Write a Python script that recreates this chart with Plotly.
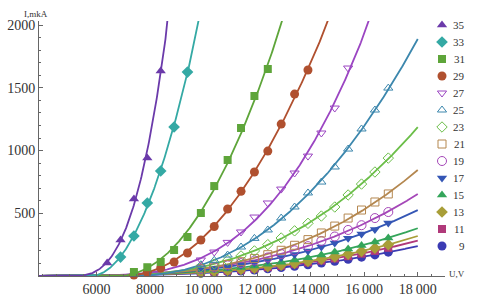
import numpy as np
import plotly.graph_objects as go

# ---------------- data ----------------
names = ["35", "33", "31", "29", "27", "25", "23", "21", "19", "17", "15", "13", "11", "9"]

u_35 = [6400, 6900, 7400, 7900, 8400]
i_35 = [104, 287, 614, 940, 1634]

u_33 = [6900, 7400, 7900, 8400, 8900, 9400]
i_33 = [151, 319, 582, 837, 1188, 1626]

u_31 = [7400, 7900, 8400, 8900, 9400, 9900, 10400, 10900, 11400, 11900, 12400]
i_31 = [32, 70, 112, 207, 311, 502, 717, 925, 1180, 1435, 1650]

u_29 = [7400, 7900, 8400, 8900, 9400, 9900, 10400, 10900, 11400, 11900, 12400, 12900, 13400, 13900]
i_29 = [8, 30, 64, 112, 183, 287, 395, 534, 675, 829, 996, 1211, 1450, 1642]

u_27 = [9900, 10400, 10900, 11400, 11900, 12400, 12900, 13400, 13900, 14400, 14900, 15400]
i_27 = [128, 191, 268, 351, 470, 582, 693, 821, 956, 1140, 1339, 1658]

u_25 = [9900, 10400, 10900, 11400, 11900, 12400, 12900, 13400, 13900, 14400, 14900, 15400, 15900, 16400, 16900]
i_25 = [90, 125, 167, 231, 300, 367, 462, 550, 662, 749, 869, 1012, 1172, 1323, 1498]

u_low = [9900, 10400, 10900, 11400, 11900, 12400, 12900, 13400, 13900, 14400, 14900, 15400, 15900, 16400, 16900]
i_23 = [72, 95, 125, 160, 200, 250, 303, 360, 420, 478, 550, 646, 733, 829, 940]
i_21 = [58, 74, 92, 114, 140, 170, 205, 245, 290, 343, 398, 462, 526, 590, 654]
i_19 = [56, 69, 85, 103, 124, 148, 175, 205, 238, 279, 315, 367, 405, 462, 510]
i_17 = [48, 60, 73, 88, 106, 126, 148, 172, 200, 231, 263, 300, 335, 370, 422]
i_15 = [37, 46, 56, 67, 80, 94, 110, 127, 146, 167, 191, 215, 243, 271, 303]
i_13 = [29, 36, 44, 53, 63, 75, 87, 101, 117, 134, 153, 174, 197, 222, 250]
i_11 = [28, 35, 42, 50, 59, 70, 81, 94, 108, 123, 140, 158, 178, 200, 225]
i_9 = [22, 27, 33, 40, 48, 57, 67, 78, 90, 104, 118, 133, 150, 168, 190]

fit_start, fit_end = 3855, 18000

x_tickvals = [6000, 8000, 10000, 12000, 14000, 16000, 18000]
x_ticktext = ["6000", "8000", "10\u2009000", "12\u2009000", "14\u2009000", "16\u2009000", "18\u2009000"]
y_tickvals = [500, 1000, 1500, 2000]
y_ticktext = ["500", "1000", "1500", "2000"]

# ---------------- styles ----------------
series_u = [u_35, u_33, u_31, u_29, u_27, u_25, u_low, u_low, u_low, u_low, u_low, u_low, u_low, u_low]
series_i = [i_35, i_33, i_31, i_29, i_27, i_25, i_23, i_21, i_19, i_17, i_15, i_13, i_11, i_9]
colors = ["#6B3AAA", "#34A9A4", "#5EA53A", "#B0502F", "#9B45C2", "#3C87AD", "#6BBE48",
          "#B4874F", "#A547B8", "#3456B5", "#34A55A", "#A89E38", "#B0397A", "#3B3BB3"]
symbols = ["triangle-up", "diamond", "square", "circle", "triangle-down-open", "triangle-up-open",
           "diamond-open", "square-open", "circle-open", "triangle-down", "triangle-up", "diamond",
           "square", "circle"]
sizes = [9, 9, 8, 9, 8, 8, 8, 8, 9, 9, 9, 9, 8, 9]

# plot area in pixels
L, R, T, B = 38.5, 445.0, 21.0, 276.0
W, H = 482, 306
pw, ph = R - L, B - T


def fit_curve(u, i, grid):
    """Least-squares fit of I = max(0, a + b*U)^n, n chosen from a few exponents."""
    u = np.asarray(u, float) / 1000.0
    i = np.asarray(i, float)
    g = grid / 1000.0
    best = None
    for n in np.arange(1.5, 5.01, 0.25):
        c = np.polyfit(u, i ** (1.0 / n), 1)
        pred = np.clip(np.polyval(c, u), 0, None) ** n
        err = np.sum((pred - i) ** 2)
        if best is None or err < best[0]:
            best = (err, c, n)
    _, c, n = best
    return np.clip(np.polyval(c, g), 0, None) ** n


fig = go.Figure()

grid = np.linspace(fit_start, fit_end, 600)
for k in reversed(range(len(names))):
    fit = fit_curve(series_u[k], series_i[k], grid)
    fig.add_trace(go.Scatter(x=grid, y=fit, mode="lines",
                             line=dict(color=colors[k], width=1.8),
                             showlegend=False, hoverinfo="skip"))

for k in reversed(range(len(names))):
    sym = symbols[k]
    is_open = sym.endswith("open")
    fig.add_trace(go.Scatter(
        x=series_u[k], y=series_i[k], mode="markers", cliponaxis=False,
        marker=dict(symbol=sym, size=sizes[k], color=colors[k],
                    line=dict(color=colors[k], width=1 if is_open else 0)),
        showlegend=False, name=names[k]))

# manual legend: markers on a pixel-based overlay axis
leg_x = 442 - L
leg_y = [B - (25 + 17 * k) for k in range(len(names))]
for k in range(len(names)):
    sym = symbols[k]
    is_open = sym.endswith("open")
    fig.add_trace(go.Scatter(
        x=[leg_x], y=[leg_y[k]], xaxis="x2", yaxis="y2", mode="markers", cliponaxis=False,
        marker=dict(symbol=sym, size=sizes[k], color=colors[k],
                    line=dict(color=colors[k], width=1 if is_open else 0)),
        showlegend=False, hoverinfo="skip"))

annotations = []
for k, n in enumerate(names):
    annotations.append(dict(xref="paper", yref="paper", x=(467 - L) / pw, y=leg_y[k] / ph,
                            text=n, showarrow=False, xanchor="right", yanchor="middle",
                            font=dict(family="Liberation Serif", size=11, color="#333333")))
annotations.append(dict(xref="paper", yref="paper", x=(35 - L) / pw, y=(B - 14) / ph,
                        text="I,mkA", showarrow=False, xanchor="center", yanchor="middle",
                        font=dict(family="Liberation Serif", size=9, color="#333333")))
annotations.append(dict(xref="paper", yref="paper", x=(457.5 - L) / pw, y=(B - 274) / ph,
                        text="U,V", showarrow=False, xanchor="center", yanchor="middle",
                        font=dict(family="Liberation Serif", size=9, color="#333333")))

axis_col = "#666666"
tick_font = dict(family="Liberation Serif", size=14, color="#333333")
x_span = (fit_start, fit_start + (R - L) * 37.3)
fig.update_layout(
    width=W, height=H,
    margin=dict(l=L, r=W - R, t=T, b=H - B, pad=0, autoexpand=False),
    paper_bgcolor="white", plot_bgcolor="white",
    showlegend=False,
    xaxis=dict(range=list(x_span), tickmode="array", tickvals=x_tickvals, ticktext=x_ticktext,
               ticks="inside", ticklen=4, tickcolor=axis_col, tickwidth=1, automargin=False,
               showline=True, linecolor=axis_col, linewidth=1, showgrid=False, zeroline=False,
               tickfont=tick_font,
               minor=dict(ticks="inside", ticklen=2, tickcolor=axis_col, tick0=0, dtick=500, showgrid=False)),
    yaxis=dict(range=[0, ph / 0.12544], tickmode="array", tickvals=y_tickvals, ticktext=y_ticktext,
               ticks="inside", ticklen=4, tickcolor=axis_col, tickwidth=1, automargin=False,
               showline=True, linecolor=axis_col, linewidth=1, showgrid=False, zeroline=False,
               tickfont=tick_font,
               minor=dict(ticks="inside", ticklen=2, tickcolor=axis_col, tick0=0, dtick=100, showgrid=False)),
    xaxis2=dict(overlaying="x", anchor="y2", range=[0, pw], visible=False, fixedrange=True),
    yaxis2=dict(overlaying="y", anchor="x2", range=[0, ph], visible=False, fixedrange=True),
    annotations=annotations,
)

fig.write_html("out.html", config={"displayModeBar": False},
               post_script="document.body.style.margin='0';document.body.style.padding='0';")
